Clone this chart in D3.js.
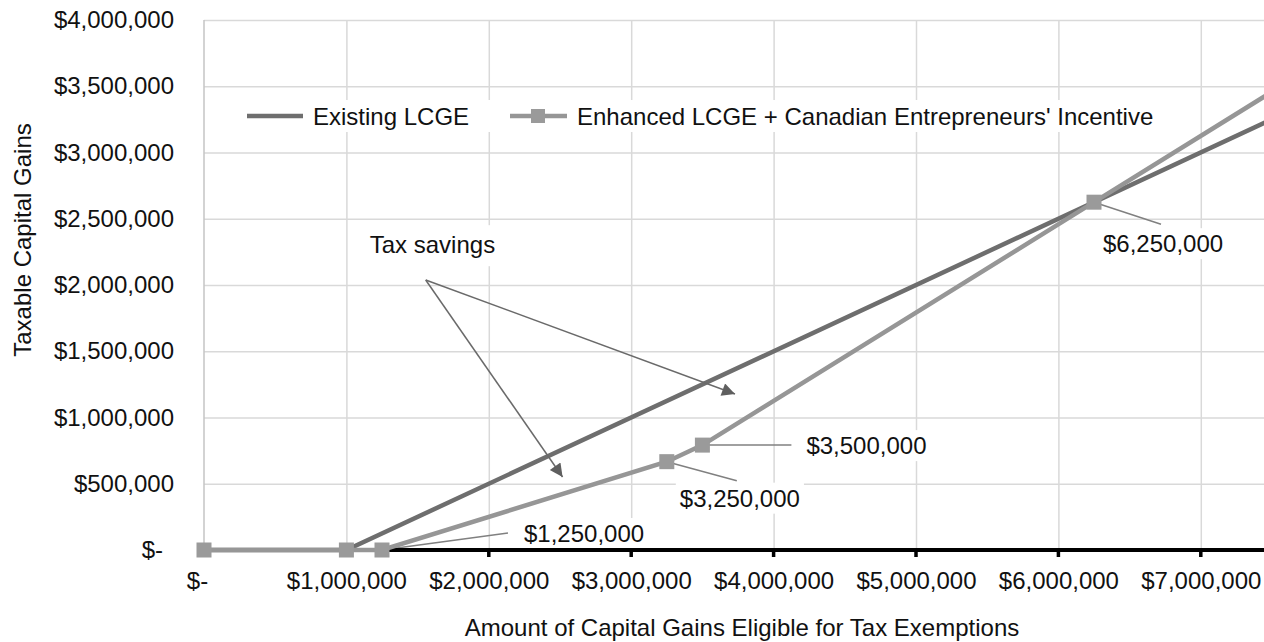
<!DOCTYPE html>
<html>
<head>
<meta charset="utf-8">
<script src="https://cdn.jsdelivr.net/npm/d3@7"></script>
<style>
  body { margin: 0; background: #fff; }
  svg { font-family: 'Liberation Sans', Arial, sans-serif; }
  .grid line { stroke: #d9d9d9; stroke-width: 1.5; }
  .grid path { display: none; }
  .tick-label { font-size: 24px; fill: #111; }
</style>
</head>
<body>
<svg width="1264" height="642"></svg>
<script>
// chart data
const seriesNames = ['Existing LCGE', "Enhanced LCGE + Canadian Entrepreneurs' Incentive"];
const existingX = [0, 1000000, 7500000];
const existingY = [0, 0, 3250000];
const enhancedX = [0, 1000000, 1250000, 3250000, 3500000, 6250000, 7500000];
const enhancedY = [0, 0, 0, 666667, 791667, 2625000, 3458333];
const xTicks = [0, 1000000, 2000000, 3000000, 4000000, 5000000, 6000000, 7000000];
const yTicks = [0, 500000, 1000000, 1500000, 2000000, 2500000, 3000000, 3500000, 4000000];
const labelledPoints = [1250000, 3250000, 3500000, 6250000];
const annotationText = 'Tax savings';
const xAxisLabel = 'Amount of Capital Gains Eligible for Tax Exemptions';
const yAxisLabel = 'Taxable Capital Gains';

const svg = d3.select('svg');
const width = +svg.attr('width');
const height = +svg.attr('height');
const margin = { top: 20, left: 204, bottom: 92 };

const money = v => v === 0 ? '$-' : d3.format('$,')(v);

const x = d3.scaleLinear().domain([0, 7500000]).range([margin.left, margin.left + 7.5 * 142.4]);
const y = d3.scaleLinear().domain([0, 4000000]).range([height - margin.bottom, margin.top]);

const existing = existingX.map((v, i) => ({ x: v, y: existingY[i] }));
const enhanced = enhancedX.map((v, i) => ({ x: v, y: enhancedY[i] }));

// grid lines
svg.append('g')
    .attr('class', 'grid')
    .attr('transform', `translate(0,${y(0)})`)
    .call(d3.axisBottom(x).tickValues(xTicks.slice(1)).tickSize(-(y(0) - y(4000000))).tickFormat(''));
svg.append('g')
    .attr('class', 'grid')
    .attr('transform', `translate(${x(0)},0)`)
    .call(d3.axisLeft(y).tickValues(yTicks.slice(1)).tickSize(-(width - x(0))).tickFormat(''));
// plot border (left)
svg.append('line')
    .attr('x1', x(0)).attr('x2', x(0))
    .attr('y1', y(4000000)).attr('y2', y(0))
    .attr('stroke', '#c4c4c4').attr('stroke-width', 1.5);

// y tick labels
const yAxis = svg.append('g')
    .attr('transform', `translate(${x(0)},0)`)
    .call(d3.axisLeft(y).tickValues(yTicks).tickSize(0).tickPadding(30).tickFormat(money));
yAxis.select('.domain').remove();
yAxis.selectAll('text').attr('class', 'tick-label').attr('font-size', null).attr('font-family', null)
    .attr('dx', d => d === 0 ? -11 : 0);

// x tick labels
const xAxis = svg.append('g')
    .attr('transform', `translate(0,${y(0)})`)
    .call(d3.axisBottom(x).tickValues(xTicks).tickSize(0).tickPadding(22).tickFormat(money));
xAxis.select('.domain').remove();
xAxis.selectAll('text').attr('class', 'tick-label').attr('font-size', null).attr('font-family', null)
    .attr('dx', d => d === 0 ? -7 : 0);

// axis titles
svg.append('text')
    .attr('class', 'tick-label')
    .attr('x', 742).attr('y', 636)
    .attr('text-anchor', 'middle')
    .text(xAxisLabel);
svg.append('text')
    .attr('class', 'tick-label')
    .attr('transform', 'rotate(-90)')
    .attr('x', -240).attr('y', 31)
    .attr('text-anchor', 'middle')
    .text(yAxisLabel);

// text with a white box behind it
function boxedText(tx, ty, str, padX, padTop, padBottom) {
    const t = svg.append('text')
        .attr('class', 'tick-label')
        .attr('x', tx).attr('y', ty)
        .text(str);
    const bb = t.node().getBBox();
    svg.insert('rect', () => t.node())
        .attr('x', bb.x - padX).attr('y', bb.y - padTop)
        .attr('width', bb.width + 2 * padX).attr('height', bb.height + padTop + padBottom)
        .attr('fill', '#fff');
    return t;
}

// point labels with leader lines (offsets in pixels from the point)
const labelOffsets = {
    1250000: { lx: 126, ly: -17, tx: 142, ty: -8 },
    3250000: { lx: 70, ly: 19, tx: 13, ty: 45 },
    3500000: { lx: 89, ly: 0, tx: 104, ty: 9 },
    6250000: { lx: 67, ly: 22, tx: 9, ty: 50 }
};
labelledPoints.forEach(px => {
    const pt = enhanced.find(d => d.x === px);
    const o = labelOffsets[px];
    const cx = x(pt.x), cy = y(pt.y);
    boxedText(cx + o.tx, cy + o.ty, money(px), 4, 2, 2);
    svg.append('line')
        .attr('x1', cx).attr('y1', cy)
        .attr('x2', cx + o.lx).attr('y2', cy + o.ly)
        .attr('stroke', '#808080').attr('stroke-width', 1.5);
});

// black baseline with small ticks
svg.append('line')
    .attr('x1', x(0)).attr('x2', width)
    .attr('y1', y(0)).attr('y2', y(0))
    .attr('stroke', '#000').attr('stroke-width', 4);
svg.selectAll('.xtick-mark')
    .data(xTicks.slice(2))
    .enter().append('line')
    .attr('x1', d => x(d)).attr('x2', d => x(d))
    .attr('y1', y(0)).attr('y2', y(0) + 7)
    .attr('stroke', '#000').attr('stroke-width', 3.5);

// lines
const lineMaker = d3.line().x(d => x(d.x)).y(d => y(d.y));

svg.append('path')
    .datum(existing)
    .attr('d', lineMaker)
    .attr('fill', 'none')
    .attr('stroke', '#6e6e6e')
    .attr('stroke-width', 4.5);
svg.append('path')
    .datum(enhanced)
    .attr('d', lineMaker)
    .attr('fill', 'none')
    .attr('stroke', '#969696')
    .attr('stroke-width', 4.5);
svg.selectAll('.marker')
    .data(enhanced)
    .enter().append('rect')
    .attr('class', 'marker')
    .attr('x', d => x(d.x) - 7.5).attr('y', d => y(d.y) - 7.5)
    .attr('width', 15).attr('height', 15)
    .attr('fill', '#9a9a9a');

// tax savings annotation
svg.append('defs').append('marker')
    .attr('id', 'arrow')
    .attr('viewBox', '0 0 10 10')
    .attr('refX', 10).attr('refY', 5)
    .attr('markerWidth', 16).attr('markerHeight', 13)
    .attr('markerUnits', 'userSpaceOnUse')
    .attr('orient', 'auto')
    .append('path').attr('d', 'M0,0L10,5L0,10Z').attr('fill', '#5f5f5f');

boxedText(x(1164000), y(2240000), annotationText, 8, 6, 8);

const arrowStart = { x: 1557000, y: 2038000 };
const arrowEnds = [{ x: 3729000, y: 1177000 }, { x: 2518000, y: 551000 }];
svg.selectAll('.arrow')
    .data(arrowEnds)
    .enter().append('line')
    .attr('class', 'arrow')
    .attr('x1', x(arrowStart.x)).attr('y1', y(arrowStart.y))
    .attr('x2', d => x(d.x)).attr('y2', d => y(d.y))
    .attr('stroke', '#6a6a6a').attr('stroke-width', 1.5)
    .attr('marker-end', 'url(#arrow)');

// legend
const legend = svg.append('g');
legend.append('rect')
    .attr('x', 240).attr('y', 100).attr('width', 932).attr('height', 32)
    .attr('fill', '#fff');
legend.append('line')
    .attr('x1', 247).attr('x2', 303).attr('y1', 116).attr('y2', 116)
    .attr('stroke', '#6e6e6e').attr('stroke-width', 4.5);
legend.append('text')
    .attr('class', 'tick-label')
    .attr('x', 313).attr('y', 124.5)
    .text(seriesNames[0]);
legend.append('line')
    .attr('x1', 510).attr('x2', 567).attr('y1', 116).attr('y2', 116)
    .attr('stroke', '#969696').attr('stroke-width', 4.5);
legend.append('rect')
    .attr('x', 531).attr('y', 109).attr('width', 14).attr('height', 14)
    .attr('fill', '#9a9a9a');
legend.append('text')
    .attr('class', 'tick-label')
    .attr('x', 577).attr('y', 124.5)
    .text(seriesNames[1]);
</script>
</body>
</html>
